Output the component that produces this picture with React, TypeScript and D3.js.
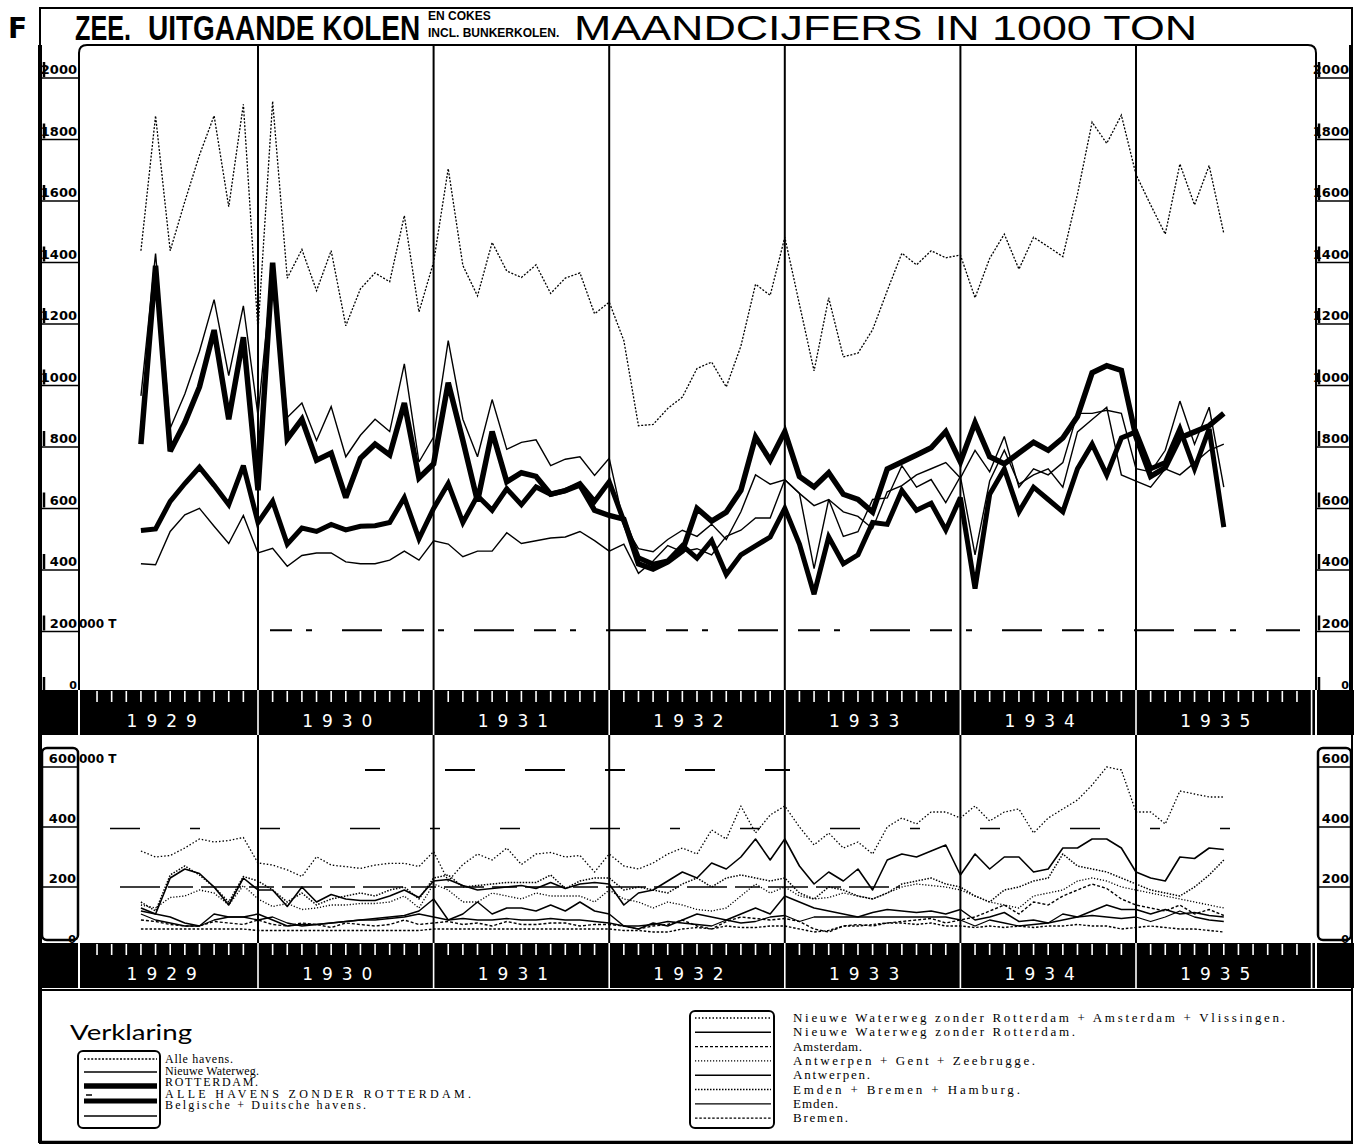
import React, { useEffect } from 'react';
import * as d3 from 'd3';

const W = 1365;
const H = 1145;
const YEARS = ['1929', '1930', '1931', '1932', '1933', '1934', '1935'];
const FIRST_MONTH = 4; // May 1929
const TOP_TICKS = [0, 200, 400, 600, 800, 1000, 1200, 1400, 1600, 1800, 2000];
const BOT_TICKS = [0, 200, 400, 600];

// ---- top chart (1000 ton), May 1929 .. Jul 1935 ----
const alleHavens = [
  1409, 1848, 1409, 1569, 1720, 1848, 1552, 1885,
  1150, 1895, 1320, 1413, 1279, 1409, 1165, 1285, 1337, 1308, 1523, 1210,
  1372, 1676, 1361, 1262, 1436, 1343, 1322, 1363, 1270, 1320, 1337, 1204,
  1242, 1117, 840, 844, 896, 933, 1026, 1047, 966, 1099, 1300, 1264,
  1453, 1235, 1018, 1256, 1064, 1076, 1152, 1279, 1401, 1363, 1409, 1386,
  1395, 1256, 1384, 1463, 1349, 1453, 1422, 1390, 1593, 1827, 1758, 1850,
  1657, 1558, 1463, 1691, 1558, 1686, 1465,
];
const nieuweWaterweg = [
  937, 1400, 832, 943, 1082, 1250, 1003, 1230,
  873, 1361, 867, 914, 792, 902, 739, 809, 861, 821, 1041, 722,
  803, 1117, 861, 739, 925, 763, 786, 794, 710, 731, 739, 678,
  734, 520, 440, 430, 470, 500, 480, 520, 470, 560, 680, 650,
  664, 620, 580, 600, 560, 545, 505, 625, 645, 680, 700, 720,
  670, 760, 690, 805, 640, 700, 680, 720, 880, 880, 890, 880,
  700, 690, 760, 920, 780, 900, 640,
];
const rotterdam = [
  780, 1360, 757, 850, 966, 1151, 861, 1128,
  630, 1370, 797, 861, 728, 751, 606, 734, 780, 745, 914, 670,
  716, 980, 792, 594, 821, 658, 687, 675, 617, 629, 647, 565,
  548, 536, 391, 374, 397, 432, 571, 530, 559, 630, 803, 728,
  821, 675, 641, 687, 617, 600, 559, 699, 722, 745, 768, 821,
  722, 850, 739, 716, 751, 786, 760, 800, 870, 1012, 1035, 1020,
  803, 675, 704, 800, 820, 840, 880,
];
const zonderRotterdam = [
  499, 504, 594, 652, 705, 646, 583, 710,
  525, 594, 455, 507, 496, 519, 501, 513, 515, 525, 606, 472,
  571, 652, 525, 612, 565, 635, 583, 641, 617, 629, 652, 594,
  658, 530, 410, 390, 400, 450, 409, 467, 356, 420, 449, 478,
  571, 455, 292, 478, 391, 420, 525, 519, 629, 565, 588, 501,
  606, 310, 617, 699, 560, 640, 600, 560, 700, 780, 680, 800,
  820, 700, 720, 830, 700, 830, 510,
];
const belgDuits = [
  391, 388, 496, 550, 571, 513, 457, 548,
  426, 441, 383, 418, 426, 426, 397, 391, 391, 403, 432, 403,
  466, 455, 414, 432, 432, 492, 457, 466, 475, 478, 496, 466,
  432, 455, 360, 400, 450, 430, 440, 420, 480, 500, 540, 540,
  664, 620, 375, 600, 480, 495, 600, 605, 710, 640, 665, 590,
  675, 420, 660, 760, 650, 680, 700, 640, 820, 860, 900, 680,
  660, 640, 700, 680, 720, 760, 780,
];

// ---- bottom chart (1000 ton) ----
const nwZonderRotAmsVl = [
  290, 270, 275, 300, 330, 320, 325, 335,
  250, 243, 227, 205, 271, 243, 238, 232, 243, 249, 249, 238,
  288, 190, 245, 280, 260, 300, 245, 280, 285, 270, 275, 220,
  280, 240, 230, 250, 280, 300, 280, 360, 330, 440, 350, 410,
  440, 370, 310, 350, 300, 320, 280, 370, 400, 380, 420, 420,
  400, 440, 390, 420, 430, 350, 400, 430, 460, 510, 570, 560,
  420, 420, 380, 490, 480, 470, 470,
];
const nwZonderRot = [
  100, 80, 200, 230, 215, 170, 110, 200,
  160, 160, 105, 170, 120, 145, 130, 125, 125, 140, 160, 135,
  190, 195, 175, 160, 165, 170, 175, 165, 185, 165, 180, 185,
  180, 110, 150, 160, 190, 220, 200, 250, 230, 270, 330, 260,
  330, 240, 180, 220, 190, 230, 160, 260, 280, 270, 290, 310,
  210, 280, 230, 270, 270, 220, 230, 300, 300, 330, 330, 300,
  220, 200, 190, 270, 265, 300, 295,
];
const amsterdam = [
  60, 55, 45, 40, 40, 55, 50, 45,
  60, 45, 40, 50, 45, 35, 50, 45, 40, 45, 60, 45,
  50, 55, 45, 50, 40, 55, 45, 45, 50, 50, 40, 45,
  45, 40, 30, 40, 45, 60, 40, 30, 55, 70, 65, 60,
  65, 55, 30, 20, 40, 45, 40, 50, 55, 60, 65, 50,
  60, 70, 90, 110, 80, 120, 110, 140, 160, 180, 165, 130,
  110, 100, 90, 110, 80, 95, 75,
];
const antwGentZeeb = [
  110, 100, 135, 140, 160, 150, 110, 175,
  130, 105, 115, 95, 100, 110, 110, 115, 115, 120, 140, 100,
  180, 160, 120, 120, 150, 140, 130, 150, 140, 140, 140, 120,
  160, 130, 120, 100, 120, 110, 95, 90, 100, 140, 180, 150,
  170, 140, 130, 135, 150, 140, 130, 150, 170, 180, 175, 170,
  160, 140, 120, 110, 100, 140, 150, 160, 190, 200, 190, 170,
  160, 150, 140, 130, 120, 110, 100,
];
const antwerpen = [
  90, 80, 70, 50, 40, 80, 70, 70,
  80, 60, 40, 45, 45, 50, 55, 60, 65, 70, 75, 90,
  130, 60, 80, 120, 80, 100, 100, 90, 110, 90, 120, 90,
  80, 40, 30, 50, 40, 60, 80, 70, 60, 80, 100, 80,
  140, 120, 100, 90, 80, 70, 85, 95, 90, 85, 90, 80,
  95, 60, 70, 85, 55, 60, 50, 60, 70, 90, 110, 95,
  95, 80, 95, 80, 85, 75, 70,
];
const emdBremHamb = [
  120, 90, 210, 240, 210, 170, 120, 205,
  190, 160, 120, 150, 110, 130, 140, 150, 140, 160, 170, 130,
  200, 210, 170, 175, 180, 185, 185, 185, 210, 165, 190, 200,
  200, 160, 170, 160, 150, 180, 200, 170, 200, 210, 200, 190,
  200, 150, 130, 170, 160, 140, 130, 150, 180, 190, 200, 180,
  170, 140, 120, 160, 170, 190, 200, 280, 240, 230, 220, 200,
  180, 160, 150, 140, 170, 210, 260,
];
const emden = [
  80, 60, 50, 40, 40, 60, 70, 70,
  60, 70, 50, 40, 45, 50, 55, 60, 60, 65, 70, 80,
  70, 60, 65, 60, 60, 65, 60, 60, 65, 60, 60, 55,
  50, 40, 40, 45, 55, 50, 45, 40, 60, 50, 55, 70,
  75, 55, 70, 70, 70, 70, 70, 70, 70, 70, 70, 70,
  60, 40, 60, 50, 40, 45, 50, 80, 70, 75, 70, 65,
  70, 55, 70, 90, 70, 60, 55,
];
const bremen = [
  30, 30, 30, 30, 30, 30, 30, 30,
  25, 25, 25, 25, 25, 25, 25, 25, 25, 25, 25, 25,
  30, 30, 30, 30, 30, 30, 30, 30, 30, 30, 30, 30,
  30, 25, 25, 20, 20, 30, 35, 30, 40, 35, 35, 40,
  40, 30, 20, 25, 40, 40, 45, 50, 50, 45, 50, 40,
  40, 35, 40, 35, 40, 35, 40, 40, 45, 40, 40, 30,
  35, 40, 35, 30, 30, 25, 20,
];

const xScale = d3.scaleLinear().domain([0, 84]).range([82.4, 1311.6]);
const yTop = d3.scaleLinear().domain([0, 2000]).range([684, 69]);
const yBot = d3.scaleLinear().domain([0, 600]).range([938, 758]);

const topSeries = [
  { name: 'Alle havens.', data: alleHavens, w: 1.3, dash: '2 1.6' },
  { name: 'Nieuwe Waterweg.', data: nieuweWaterweg, w: 1.4, dash: '' },
  { name: 'Belgische + Duitsche havens.', data: belgDuits, w: 1.4, dash: '' },
  { name: 'ALLE HAVENS ZONDER ROTTERDAM.', data: zonderRotterdam, w: 5, dash: '' },
  { name: 'ROTTERDAM.', data: rotterdam, w: 5.5, dash: '' },
];
const LEFT_LEGEND_ORDER = ['Alle havens.', 'Nieuwe Waterweg.', 'ROTTERDAM.', 'ALLE HAVENS ZONDER ROTTERDAM.', 'Belgische + Duitsche havens.'];
const botSeries = [
  { name: 'Nieuwe Waterweg zonder Rotterdam + Amsterdam + Vlissingen.', data: nwZonderRotAmsVl, w: 1.3, dash: '1.5 2' },
  { name: 'Nieuwe Waterweg zonder Rotterdam.', data: nwZonderRot, w: 1.6, dash: '' },
  { name: 'Amsterdam.', data: amsterdam, w: 1.4, dash: '3 2' },
  { name: 'Antwerpen + Gent + Zeebrugge.', data: antwGentZeeb, w: 1.3, dash: '1.2 1.8' },
  { name: 'Antwerpen.', data: antwerpen, w: 1.5, dash: '' },
  { name: 'Emden + Bremen + Hamburg.', data: emdBremHamb, w: 1.5, dash: '1.5 1.5' },
  { name: 'Emden.', data: emden, w: 1.3, dash: '' },
  { name: 'Bremen.', data: bremen, w: 1.4, dash: '2.5 1.8' },
];

function linePath(vals: number[], y: d3.ScaleLinear<number, number>) {
  return d3.line<number>().x((_, i) => xScale(FIRST_MONTH + i)).y((d) => y(d))(vals) || '';
}

const SANS = 'DejaVu Sans, Liberation Sans, sans-serif';
const ARIAL = 'Liberation Sans, Arial, sans-serif';
const SERIF = 'Liberation Serif, DejaVu Serif, serif';

function Band({ y0 }: { y0: number }) {
  const months = d3.range(0, 85);
  return (
    <g>
      <rect x={38} y={y0} width={1316} height={45} fill="#000" />
      <line x1={79} x2={79} y1={y0} y2={y0 + 45} stroke="#fff" strokeWidth={2} />
      <line x1={1316} x2={1316} y1={y0} y2={y0 + 45} stroke="#fff" strokeWidth={2} />
      {months.map((m) =>
        m % 12 === 0 ? (
          <line key={m} x1={xScale(m)} x2={xScale(m)} y1={y0} y2={y0 + 45} stroke="#fff" strokeWidth={m === 0 ? 0 : 1.6} />
        ) : (
          <line key={m} x1={xScale(m)} x2={xScale(m)} y1={y0 + 1} y2={y0 + 12} stroke="#fff" strokeWidth={1.6} />
        )
      )}
      {YEARS.map((yr, i) => (
        <text key={yr} x={xScale(i * 12 + 6) - 4} y={y0 + 37} fill="#fff" fontFamily={SANS} fontSize={17}
          textAnchor="middle" letterSpacing={9}>{yr}</text>
      ))}
    </g>
  );
}

export default function App() {
  useEffect(() => {
    document.body.style.margin = '0';
  }, []);
  const yearStarts = d3.range(1, 7).map((i) => xScale(i * 12));
  const leftLegend = LEFT_LEGEND_ORDER.map((n) => topSeries.find((s) => s.name === n)!);
  return (
    <svg width={W} height={H} viewBox={`0 0 ${W} ${H}`} style={{ display: 'block', background: '#fff' }}>
      <rect width={W} height={H} fill="#fff" />
      {/* title */}
      <text x={8} y={38} fontFamily={SANS} fontWeight="bold" fontSize={28}>F</text>
      <path d="M40,1143 L40,8 L1352,8 L1352,1143 Z" fill="none" stroke="#000" strokeWidth={2} />
      <line x1={40} x2={40} y1={45} y2={1143} stroke="#000" strokeWidth={4} />
      <text transform="translate(75,40) scale(0.72,1)" fontFamily={ARIAL} fontWeight="bold" fontSize={35}>ZEE.</text>
      <text transform="translate(148,40) scale(0.8,1)" fontFamily={ARIAL} fontWeight="bold" fontSize={35}>UITGAANDE KOLEN</text>
      <text x={428} y={20} fontFamily={ARIAL} fontWeight="bold" fontSize={12}>EN COKES</text>
      <text x={428} y={37} fontFamily={ARIAL} fontWeight="bold" fontSize={12}>INCL. BUNKERKOLEN.</text>
      <text transform="translate(574,40) scale(1.245,1)" fontFamily={ARIAL} fontSize={36}>MAANDCIJFERS IN 1000 TON</text>

      {/* top plot frame */}
      <path d="M79,690 L79,53 Q79,45 87,45 L1308,45 Q1316,45 1316,53 L1316,690" fill="none" stroke="#000" strokeWidth={2} />
      <line x1={1351} x2={1351} y1={45} y2={690} stroke="#000" strokeWidth={4} />
      {yearStarts.map((x, i) => (
        <line key={'d' + i} x1={x} x2={x} y1={45} y2={690} stroke="#000" strokeWidth={2} />
      ))}
      {TOP_TICKS.map((t) => (
        <g key={'t' + t}>
          <line x1={42} x2={79} y1={yTop(t) + 9} y2={yTop(t) + 9} stroke="#000" strokeWidth={1.5} />
          <line x1={44} x2={44} y1={yTop(t) - 7} y2={yTop(t) + 8} stroke="#000" strokeWidth={2.5} />
          <text x={77} y={yTop(t) + 5} textAnchor="end" fontFamily={SANS} fontWeight="bold" fontSize={t === 0 ? 11 : 13}>{t}</text>
          <line x1={1316} x2={1351} y1={yTop(t) + 9} y2={yTop(t) + 9} stroke="#000" strokeWidth={1.5} />
          <line x1={1319} x2={1319} y1={yTop(t) - 7} y2={yTop(t) + 8} stroke="#000" strokeWidth={2.5} />
          <text x={1349} y={yTop(t) + 5} textAnchor="end" fontFamily={SANS} fontWeight="bold" fontSize={t === 0 ? 11 : 13}>{t}</text>
        </g>
      ))}
      <text x={79} y={yTop(200) + 5} fontFamily={SANS} fontWeight="bold" fontSize={12}>000 T</text>
      <line x1={270} x2={1300} y1={yTop(175)} y2={yTop(175)} stroke="#000" strokeWidth={2} strokeDasharray="22 14 6 30 40 20" />

      {topSeries.map((s) => (
        <path key={s.name} d={linePath(s.data, yTop)} fill="none" stroke="#000" strokeWidth={s.w}
          strokeDasharray={s.dash || undefined} strokeLinejoin="miter" strokeMiterlimit={3} />
      ))}

      <Band y0={690} />

      {/* bottom chart */}
      <rect x={42} y={748} width={36} height={192} rx={5} fill="none" stroke="#000" strokeWidth={2.5} />
      <rect x={1318} y={748} width={33} height={192} rx={5} fill="none" stroke="#000" strokeWidth={2.5} />
      {yearStarts.map((x, i) => (
        <line key={'bd' + i} x1={x} x2={x} y1={735} y2={943} stroke="#000" strokeWidth={2} />
      ))}
      {BOT_TICKS.map((t) => (
        <g key={'b' + t}>
          <line x1={42} x2={78} y1={yBot(t) + 9} y2={yBot(t) + 9} stroke="#000" strokeWidth={1.5} />
          <text x={76} y={yBot(t) + 5} textAnchor="end" fontFamily={SANS} fontWeight="bold" fontSize={t === 0 ? 11 : 13}>{t}</text>
          <line x1={1318} x2={1351} y1={yBot(t) + 9} y2={yBot(t) + 9} stroke="#000" strokeWidth={1.5} />
          <text x={1349} y={yBot(t) + 5} textAnchor="end" fontFamily={SANS} fontWeight="bold" fontSize={t === 0 ? 11 : 13}>{t}</text>
        </g>
      ))}
      <text x={79} y={yBot(600) + 5} fontFamily={SANS} fontWeight="bold" fontSize={12}>000 T</text>
      <line x1={365} x2={790} y1={yBot(560)} y2={yBot(560)} stroke="#000" strokeWidth={2} strokeDasharray="20 60 30 50 40 40" />
      <line x1={110} x2={1230} y1={yBot(365)} y2={yBot(365)} stroke="#000" strokeWidth={1.6} strokeDasharray="30 50 10 60 20 70" />
      <line x1={120} x2={900} y1={yBot(170)} y2={yBot(170)} stroke="#000" strokeWidth={1.4} strokeDasharray="40 8 25 8" />

      {botSeries.map((s) => (
        <path key={s.name} d={linePath(s.data, yBot)} fill="none" stroke="#000" strokeWidth={s.w}
          strokeDasharray={s.dash || undefined} strokeLinejoin="round" />
      ))}

      <Band y0={943} />

      {/* legend */}
      <line x1={40} x2={1352} y1={990} y2={990} stroke="#000" strokeWidth={2} />
      <line x1={40} x2={1352} y1={1142} y2={1142} stroke="#000" strokeWidth={2.5} />
      <text x={70} y={1040} fontFamily="Lato, Open Sans, sans-serif" fontSize={21} textLength={122} lengthAdjust="spacingAndGlyphs">Verklaring</text>
      <rect x={78} y={1051} width={82} height={77} rx={5} fill="none" stroke="#000" strokeWidth={2} />
      {leftLegend.map((s, i) => {
        const ly = [1059, 1072, 1086, 1101, 1116][i];
        const ty = 1063 + i * 11.6;
        const tl = [68, 94, 93, 306, 201][i];
        return (
          <g key={'lg' + i}>
            <line x1={84} x2={157} y1={ly} y2={ly} stroke="#000" strokeWidth={s.w} strokeDasharray={s.dash || undefined} />
            <text x={165} y={ty} fontFamily={SERIF} fontSize={12} textLength={tl} lengthAdjust="spacing">{s.name}</text>
          </g>
        );
      })}
      <line x1={86} x2={92} y1={1095} y2={1095} stroke="#000" strokeWidth={1.5} />
      <rect x={690} y={1011} width={84} height={117} rx={5} fill="none" stroke="#000" strokeWidth={2} />
      {botSeries.map((s, i) => {
        const ly = 1018 + i * 14.3;
        const tl = [492, 282, 69, 242, 77, 227, 45, 55][i];
        return (
          <g key={'lb' + i}>
            <line x1={695} x2={771} y1={ly} y2={ly} stroke="#000" strokeWidth={s.w} strokeDasharray={s.dash || undefined} />
            <text x={793} y={ly + 4} fontFamily={SERIF} fontSize={13} textLength={tl} lengthAdjust="spacing">{s.name}</text>
          </g>
        );
      })}
    </svg>
  );
}
